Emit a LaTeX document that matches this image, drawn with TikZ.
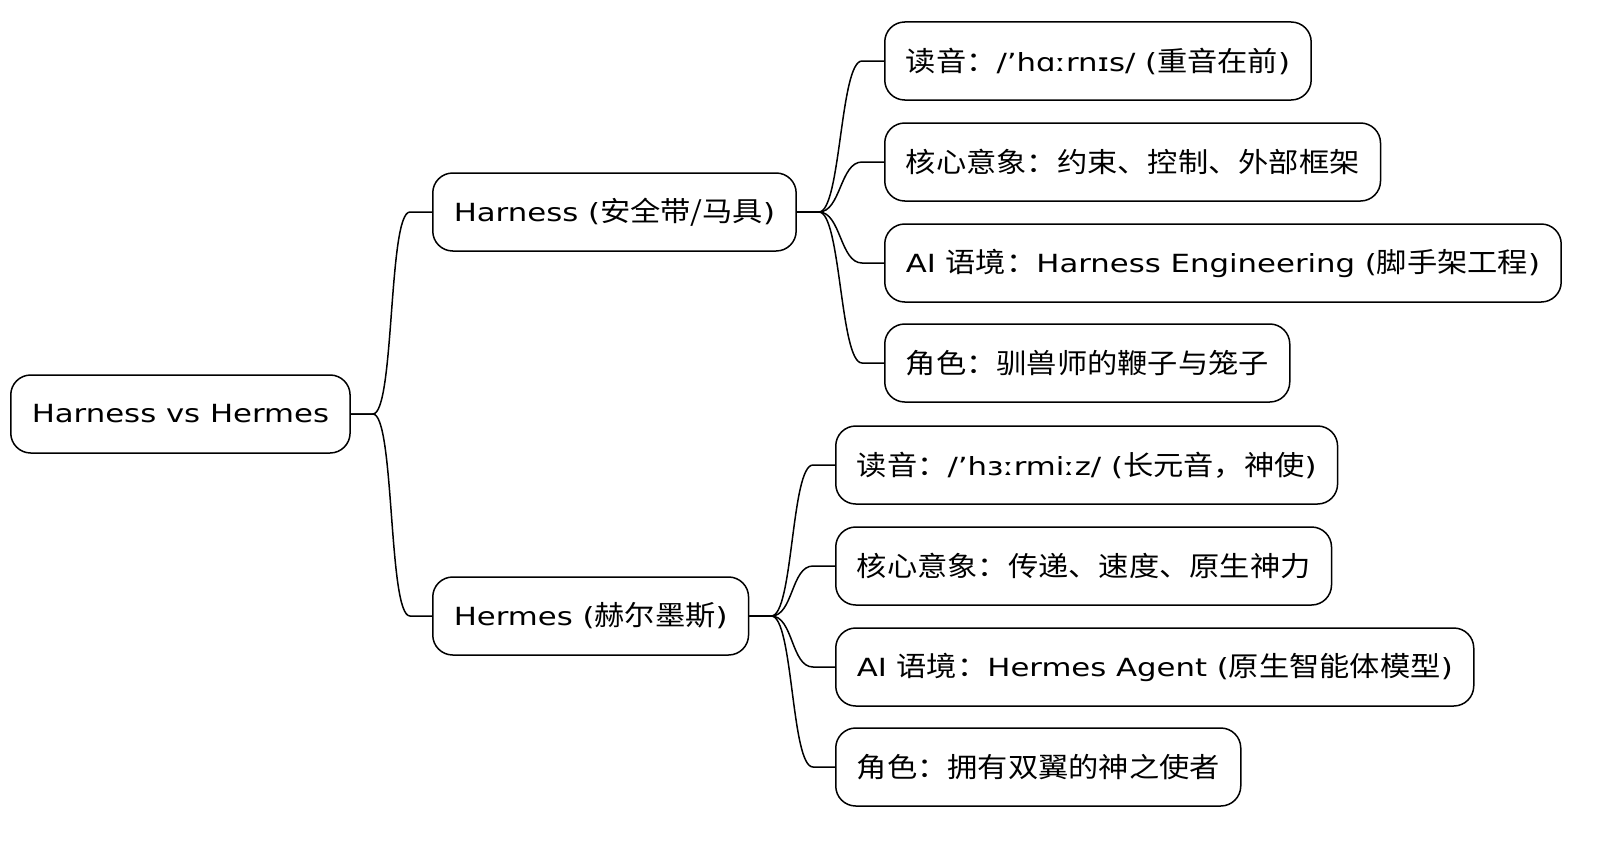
\documentclass[tikz,border=0pt]{standalone}
\usepackage{fontspec}
\setmainfont[FakeStretch=1.23]{DejaVu Sans}
\newfontfamily\cjk[Scale=1.1,FakeStretch=1.1]{Noto Sans CJK SC}
\usetikzlibrary{calc}
\begin{document}
\begin{tikzpicture}[x=1bp,y=-1bp,
  box/.style={draw,line width=1.5bp,rounded corners=20bp,minimum height=78bp,inner xsep=21bp,font=\fontsize{25bp}{28bp}\selectfont},
  link/.style={line width=1.5bp}]
\useasboundingbox (0,0) rectangle (1600,850);
\node[box,anchor=west] (root) at (10,414) {Harness vs Hermes};
\node[box,anchor=west] (ha) at (432,212) {Harness ({\cjk 安全带/马具})};
\node[box,anchor=west] (he) at (432,616) {Hermes ({\cjk 赫尔墨斯})};
\node[box,anchor=west] (ha1) at (884,61) {{\cjk 读音：}/'hɑːrnɪs/ ({\cjk 重音在前})};
\node[box,anchor=west] (ha2) at (884,162) {{\cjk 核心意象：约束、控制、外部框架}};
\node[box,anchor=west] (ha3) at (884,263) {AI {\cjk 语境：}Harness Engineering ({\cjk 脚手架工程})};
\node[box,anchor=west] (ha4) at (884,363) {{\cjk 角色：驯兽师的鞭子与笼子}};
\node[box,anchor=west] (he1) at (835,465) {{\cjk 读音：}/'hɜːrmiːz/ ({\cjk 长元音，神使})};
\node[box,anchor=west] (he2) at (835,566) {{\cjk 核心意象：传递、速度、原生神力}};
\node[box,anchor=west] (he3) at (835,667) {AI {\cjk 语境：}Hermes Agent ({\cjk 原生智能体模型})};
\node[box,anchor=west] (he4) at (835,767) {{\cjk 角色：拥有双翼的神之使者}};
\foreach \p/\c in {root/ha,root/he,ha/ha1,ha/ha2,ha/ha3,ha/ha4,he/he1,he/he2,he/he3,he/he4}
  \draw[link] (\p.east) -- ++(22,0) .. controls +(22,0) and +(-22,0) .. ($(\c.west)+(-22,0)$) -- (\c.west);
\end{tikzpicture}
\end{document}
